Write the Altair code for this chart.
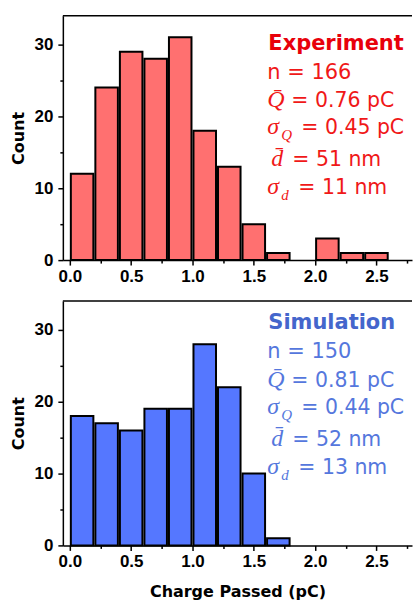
import altair as alt
import pandas as pd

# ---------------- data ----------------
bin_starts = [0.0, 0.2, 0.4, 0.6, 0.8, 1.0, 1.2, 1.4, 1.6, 1.8, 2.0, 2.2, 2.4]
bin_ends = [0.2, 0.4, 0.6, 0.8, 1.0, 1.2, 1.4, 1.6, 1.8, 2.0, 2.2, 2.4, 2.6]
exp_counts = [12, 24, 29, 28, 31, 18, 13, 5, 1, 0, 3, 1, 1]
sim_counts = [18, 17, 16, 19, 19, 28, 22, 10, 1, 0, 0, 0, 0]

x_tick_values = [0.0, 0.25, 0.5, 0.75, 1.0, 1.25, 1.5, 1.75, 2.0, 2.25, 2.5, 2.75]
y_tick_values = [0, 5, 10, 15, 20, 25, 30]

exp_title = "Experiment"
exp_n = "n = 166"
exp_rest = ["= 0.76 pC", "= 0.45 pC", "= 51 nm", "= 11 nm"]

sim_title = "Simulation"
sim_n = "n = 150"
sim_rest = ["= 0.81 pC", "= 0.44 pC", "= 52 nm", "= 13 nm"]

symbols = ["Q\u0304", "\u03c3", "d\u0304", "\u03c3"]
subscripts = ["", "Q", "", "d"]

# ---------------- styling ----------------
W, H = 350, 245
X_DOMAIN = [-0.057, 2.79]
Y_DOMAIN = [0, 34.0]


def one_row():
    return alt.Data(values=[{"a": 1}])


def text_mark(txt, x, y, color, size, font="DejaVu Sans", weight="normal", style="normal"):
    return alt.Chart(one_row()).mark_text(
        align="left", baseline="alphabetic", font=font, fontSize=size,
        fontWeight=weight, fontStyle=style, color=color
    ).encode(x=alt.value(x), y=alt.value(y), text=alt.value(txt))


def panel(counts, title, n_txt, rests, fill, title_color, text_color, dy, show_xtitle):
    df = pd.DataFrame({"start": bin_starts, "end": bin_ends, "count": counts})
    df = df[df["count"] > 0]

    x_axis = alt.Axis(
        values=x_tick_values,
        labelExpr="datum.value % 0.5 == 0 ? format(datum.value, '.1f') : ''",
        tickSize={"condition": {"test": "datum.value % 0.5 == 0", "value": 5}, "value": 3},
        labelOverlap=False, labelPadding=3,
        title="Charge Passed (pC)" if show_xtitle else None,
        titlePadding=14,
    )
    y_axis = alt.Axis(
        values=y_tick_values,
        labelExpr="datum.value % 10 == 0 ? format(datum.value, 'd') : ''",
        tickSize={"condition": {"test": "datum.value % 10 == 0", "value": 5}, "value": 3},
        labelOverlap=False, labelPadding=5, title="Count", titlePadding=8,
    )

    bars = alt.Chart(df).mark_bar(
        fill=fill, stroke="black", strokeWidth=2, xOffset=1, x2Offset=-1
    ).encode(
        x=alt.X("start:Q", scale=alt.Scale(domain=X_DOMAIN, nice=False, zero=False), axis=x_axis),
        x2="end:Q",
        y=alt.Y("count:Q", scale=alt.Scale(domain=Y_DOMAIN, nice=False), axis=y_axis),
        y2=alt.datum(0),
    )

    frame = alt.Chart(one_row()).mark_rule(color="black", strokeWidth=1.5).encode(
        x=alt.value(0), x2=alt.value(W), y=alt.value(0)
    )

    layers = [bars, frame]
    layers.append(text_mark(title, 206, 34 - dy, title_color, 21, weight="bold"))
    layers.append(text_mark(n_txt, 205, 63 - dy, text_color, 21))

    sym_x = [205, 205, 209, 205]
    rest_x = [229, 239, 230, 236]
    base_y = [92, 119, 151, 179]
    for i in range(4):
        yy = base_y[i] - dy
        layers.append(text_mark(symbols[i], sym_x[i], yy, text_color, 24,
                                font="Liberation Serif", style="italic"))
        if subscripts[i]:
            layers.append(text_mark(subscripts[i], 219, yy + 6, text_color, 15,
                                    font="Liberation Serif", style="italic"))
        layers.append(text_mark(rests[i], rest_x[i], yy, text_color, 20.5))

    return alt.layer(*layers).properties(width=W, height=H)


top = panel(exp_counts, exp_title, exp_n, exp_rest, "#FF7070", "#E8000B", "#F01818", 0, False)
bottom = panel(sim_counts, sim_title, sim_n, sim_rest, "#5577FF", "#4466CC", "#5577DD", 6, True)

chart = alt.vconcat(top, bottom, spacing=16).properties(
    padding={"left": 10, "top": 14, "right": 0, "bottom": 0},
    background="white",
).configure_view(stroke=None).configure_axis(
    grid=False,
    domainColor="black", domainWidth=1.5,
    tickColor="black", tickWidth=1.5,
    labelFont="Liberation Sans", labelFontSize=17, labelFontWeight="bold", labelColor="black",
    titleFont="DejaVu Sans", titleFontSize=16, titleFontWeight="bold", titleColor="black",
)

chart.save("out.html", embed_options={"renderer": "svg", "actions": False})
